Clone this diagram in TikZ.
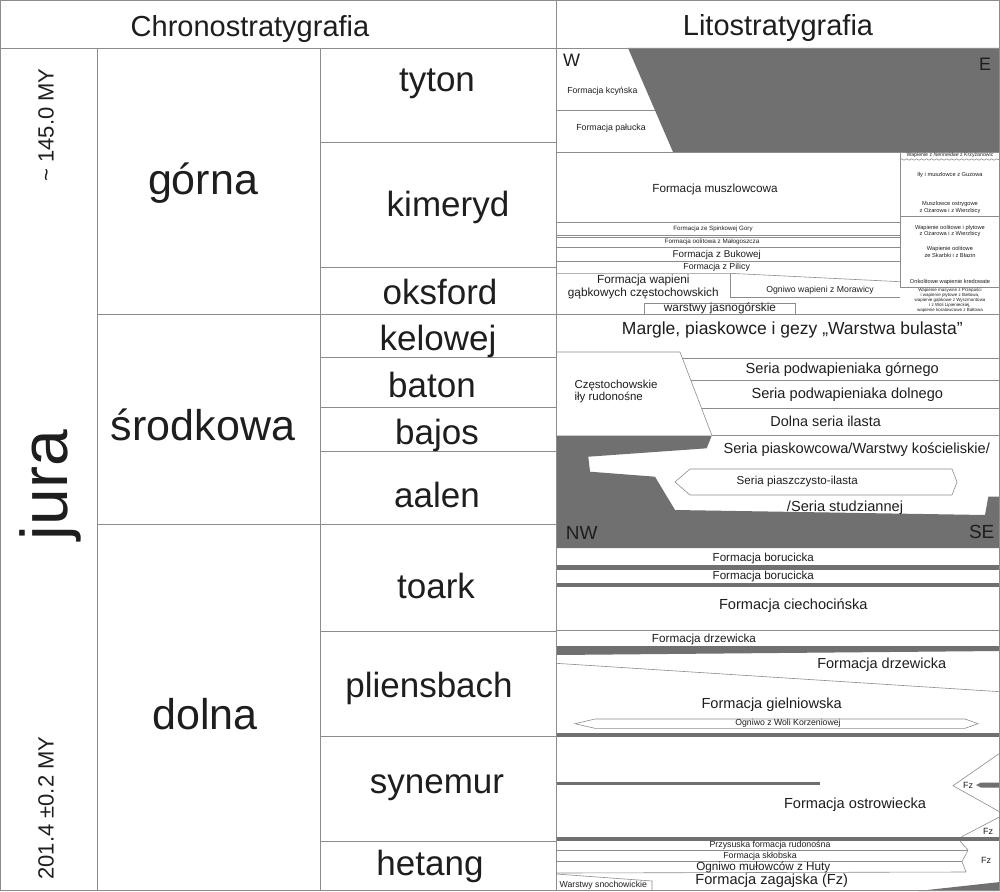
\documentclass[tikz,border=0pt]{standalone}
\usepackage{fontspec}
\setmainfont{Liberation Sans}
\usetikzlibrary{decorations.pathmorphing}
\definecolor{ln}{HTML}{8C8C8C}
\definecolor{dk}{HTML}{707070}
\definecolor{tx}{HTML}{1E1E1E}
\begin{document}
\begin{tikzpicture}[x=1pt,y=-1pt,
  grid/.style={draw=ln,line width=0.9pt},
  thinl/.style={draw=ln,line width=0.6pt},
  gfill/.style={fill=dk,draw=none},
  fs/.style={font=\fontsize{#1}{#1}\selectfont},
  every node/.style={inner sep=0pt,text=tx}]
\useasboundingbox (0,0) rectangle (1000,891);
\fill[white] (0,0) rectangle (1000,891);

% ---------- grey fills ----------
\fill[gfill] (628,48) -- (1000,48) -- (1000,152) -- (673,152) -- cycle;
\fill[gfill] (556,435.7) -- (711.7,435.7) -- (706.7,448.3) -- (588.3,456.7) -- (590,471.7) -- (655,476.7) -- (675,510) -- (985,515) -- (988.3,496.7) -- (1000,496.7) -- (1000,548) -- (556,548) -- cycle;
\fill[gfill] (556,565) rectangle (1000,570);
\fill[gfill] (556,583.3) rectangle (1000,586.7);
\fill[gfill] (556,646) -- (1000,646) -- (1000,651) -- (556,655) -- cycle;
\fill[gfill] (556,733.3) rectangle (1000,737.3);
\fill[gfill] (556,782) rectangle (820,785);
\fill[gfill] (976,785) -- (981,782.5) -- (1000,782.5) -- (1000,787.5) -- (981,787.5) -- cycle;
\fill[gfill] (556,836.7) rectangle (1000,841);
\fill[gfill] (918,891) -- (1000,882) -- (1000,891) -- cycle;

% ---------- chronostratigraphy grid ----------
\draw[grid] (0.5,0.5) rectangle (999.5,890.5);
\draw[grid] (0,48) -- (1000,48);
\draw[grid] (556,0) -- (556,891);
\draw[grid] (97,48) -- (97,891);
\draw[grid] (320,48) -- (320,891);
\foreach \yy in {142,267,357,407,451,631,736,841} \draw[grid] (320,\yy) -- (556,\yy);
\foreach \yy in {314,524} \draw[grid] (97,\yy) -- (556,\yy);

% ---------- lithostratigraphy lines ----------
\draw[thinl] (556,110.7) -- (655.3,110.7);
\draw[thinl] (556,152) -- (1000,152);
\foreach \yy in {222,235,237.5,247.3,261.7} \draw[thinl] (556,\yy) -- (900,\yy);
\draw[thinl] (556,273.3) -- (730,273.3) -- (900,281.7);
\draw[thinl] (730,273.3) -- (730,297) -- (900,297);
\draw[thinl] (644,314) -- (644,303) -- (795,303) -- (795,314);
\draw[thinl] (900,152) -- (900,288);
\draw[thinl,decorate,decoration={snake,amplitude=0.7pt,segment length=5pt}] (900,159.5) -- (1000,159.5);
\draw[thinl] (900,216.7) -- (1000,216.7);
\draw[thinl] (900,287.7) -- (1000,287.7);
\draw[grid] (556,314) -- (1000,314);
% middle jurassic
\draw[thinl] (556,352) -- (680,352) -- (712,435.7);
\draw[thinl] (682.4,358.3) -- (1000,358.3);
\draw[thinl] (690.8,380) -- (1000,380);
\draw[thinl] (701.7,408.3) -- (1000,408.3);
\draw[thinl] (712,435.7) -- (1000,435.7);
\draw[thinl] (675,482) -- (690,469) -- (952,469) -- (957,482) -- (952,495) -- (690,495) -- cycle;
% lower jurassic
\draw[thinl] (556,630.7) -- (1000,630.7);
\draw[thinl] (556,663.3) -- (1000,691.7);
\draw[thinl] (575,723.7) -- (595,719) -- (965,719) -- (978,723.7) -- (965,728.3) -- (595,728.3) -- cycle;
\draw[thinl] (1000,753) -- (953,785.7) -- (1000,812);
\draw[thinl] (961.7,836.7) -- (1000,816.7);
\draw[thinl] (556,850) -- (968,850);
\draw[thinl] (556,861.7) -- (962,861.7);
\draw[thinl] (556,873) -- (966,872);
\draw[thinl] (960,841) -- (968,850) -- (962,861.7) -- (966,872);
\draw[thinl] (556,874) -- (652,881) -- (652,891);

% ---------- headers ----------
\node[fs=29] (hchrono) at (250,29) {Chronostratygrafia};
\node[fs=29] (hlito) at (778,28) {Litostratygrafia};

% ---------- left column ----------
\node[fs=22,rotate=90] (tmax) at (46,125) {\char"007E\ 145.0 MY};
\node[fs=66,rotate=90] (jura) at (50,485) {jura};
\node[fs=22,rotate=90] (tmin) at (46,808) {201.4 ±0.2 MY};

% ---------- epochs ----------
\node[fs=43] (gorna) at (203,183) {górna};
\node[fs=43] (srodk) at (203,425) {środkowa};
\node[fs=43] (dolna) at (205,714) {dolna};

% ---------- stages ----------
\node[fs=35] (tyton) at (437,84) {tyton};
\node[fs=35] (kimer) at (448,207) {kimeryd};
\node[fs=35] (oksf) at (440,292) {oksford};
\node[fs=35] (kelo) at (438,341) {kelowej};
\node[fs=35] (bato) at (432,385) {baton};
\node[fs=35] (bajo) at (437,435) {bajos};
\node[fs=35] (aale) at (437,495) {aalen};
\node[fs=35] (toar) at (436,586) {toark};
\node[fs=35] (plie) at (429,688) {pliensbach};
\node[fs=35] (syne) at (437,788) {synemur};
\node[fs=35] (heta) at (430,866) {hetang};

% ---------- upper jurassic litho ----------
\node[fs=18] (W) at (571.7,60) {W};
\node[fs=18] (E) at (985,64) {E};
\node[fs=8.7] (kcyn) at (602.3,90.7) {Formacja kcyńska};
\node[fs=8.8] (palu) at (611,128.3) {Formacja pałucka};
\node[fs=11.75] (musz) at (715,189.3) {Formacja muszlowcowa};
\node[fs=6.2] (spin) at (713,228.6) {Formacja ze Spinkowej Gory};
\node[fs=6.3] (malo) at (712,241.7) {Formacja oolitowa z Małogoszcza};
\node[fs=9.8] (buko) at (716.7,255) {Formacja z Bukowej};
\node[fs=8.8] (pili) at (716.7,267.3) {Formacja z Pilicy};
\node[font=\fontsize{11.8}{12.6}\selectfont,align=center] (wapg) at (643.3,287) {Formacja wapieni\\gąbkowych częstochowskich};
\node[fs=8.7] (mora) at (820,290) {Ogniwo wapieni z Morawicy};
\node[fs=11.8] (jasn) at (720,308) {warstwy jasnogórskie};
% right column
\node[fs=5.2] (neri) at (950,155) {Wapienie z \textit{Nerineidae} z Krzyżanowic};
\node[fs=5.7] (guzo) at (950,175) {Iły i muszlowce z Guzowa};
\node[font=\fontsize{5.7}{6.7}\selectfont,align=center] (ostr) at (950,207.7) {Muszlowce ostrygowe\\z Ożarowa i z Wierzbicy};
\node[font=\fontsize{5.7}{6.2}\selectfont,align=center] (oopl) at (950,231.3) {Wapienie oolitowe i płytowe\\z Ożarowa i z Wierzbicy};
\node[font=\fontsize{5.7}{6.7}\selectfont,align=center] (oosk) at (950,252.3) {Wapienie oolitowe\\ze Skarbki i z Błazin};
\node[fs=5.7] (onko) at (950,282.3) {Onkolitowe wapienie kredowate};
\node[font=\fontsize{4.5}{4.8}\selectfont,align=center] (masy) at (950,300.3) {Wapienie masywne z Przepaści\\i wapienie płytowe z Bałtowa,\\wapienie gąbkowe z Wyszmontowa\\i z Woli Lipienieckiej,\\wapienie koralowcowe z Bałtowa};

% ---------- middle jurassic litho ----------
\node[fs=17.5] (marg) at (792.3,330) {Margle, piaskowce i gezy „Warstwa bulasta”};
\node[fs=14.6] (podg) at (842.3,370) {Seria podwapieniaka górnego};
\node[fs=14.6] (podd) at (847.3,394.3) {Seria podwapieniaka dolnego};
\node[fs=14.4] (doil) at (825.7,421.7) {Dolna seria ilasta};
\node[font=\fontsize{11.5}{10.7}\selectfont,align=left,anchor=west] (czes) at (574.3,391.7) {Częstochowskie\\iły rudonośne};
\node[fs=14.6] (pias) at (856.7,450) {Seria piaskowcowa/Warstwy kościeliskie/};
\node[fs=11.6] (psil) at (797.3,481.7) {Seria piaszczysto-ilasta};
\node[fs=14.6] (stud) at (845,507.7) {/Seria studziannej};
\node[fs=19] (NW) at (581.7,533) {NW};
\node[fs=19] (SE) at (981.7,531.7) {SE};

% ---------- lower jurassic litho ----------
\node[fs=11.6] (bor1) at (763.3,558.3) {Formacja borucicka};
\node[fs=11.6] (bor2) at (763.3,576.5) {Formacja borucicka};
\node[fs=14.6] (ciec) at (793.3,606) {Formacja ciechocińska};
\node[fs=11.7] (drz1) at (704,639.3) {Formacja drzewicka};
\node[fs=14.5] (drz2) at (881.7,665) {Formacja drzewicka};
\node[fs=14.6] (giel) at (771.7,705) {Formacja gielniowska};
\node[fs=8.7] (woli) at (788,723.7) {Ogniwo z Woli Korzeniowej};
\node[fs=14.6] (ostw) at (855,805) {Formacja ostrowiecka};
\node[fs=9] (fz1) at (968,785.7) {Fz};
\node[fs=9] (fz2) at (988,831.7) {Fz};
\node[fs=9] (fz3) at (986,860) {Fz};
\node[fs=8.8] (przy) at (770,845.5) {Przysuska formacja rudonośna};
\node[fs=8.8] (sklo) at (760,856.7) {Formacja skłobska};
\node[fs=11.7] (huty) at (763.3,867.3) {Ogniwo mułowców z Huty};
\node[fs=14.6] (zaga) at (771.7,881) {Formacja zagajska (Fz)};
\node[fs=8.7] (snoc) at (603.3,885) {Warstwy snochowickie};
\end{tikzpicture}
\end{document}
